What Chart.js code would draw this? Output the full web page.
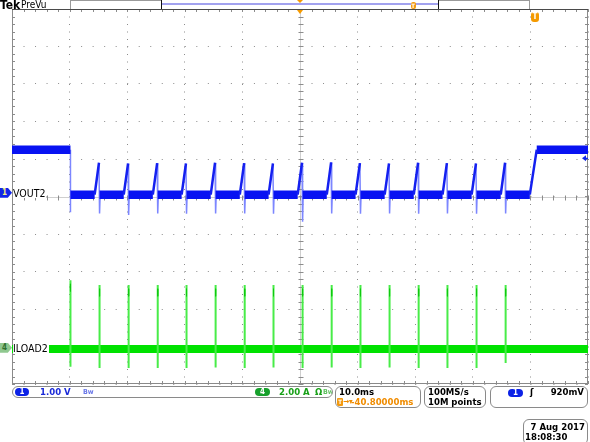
<!DOCTYPE html>
<html>
<head>
<meta charset="utf-8">
<title>VOUT2 / ILOAD2</title>
<script src="https://cdn.jsdelivr.net/npm/chart.js@4.4.1/dist/chart.umd.min.js"></script>
<style>
  body { margin: 0; background: #fff; }
  #scope { position: relative; width: 590px; height: 442px; overflow: hidden;
           font-family: 'DejaVu Sans Condensed', 'DejaVu Sans', sans-serif; font-size: 9.5px; font-weight: bold; color: #000; }
  #scope canvas { position: absolute; left: 0; top: 0; }
  .abs { position: absolute; white-space: nowrap; line-height: 10px; }
  .box { position: absolute; border: 1px solid #8a8a8a; border-radius: 6px; background: #fff; overflow: hidden; box-sizing: border-box; }
  .pill { position: absolute; color: #fff; font-weight: bold; font-size: 8px; line-height: 8px; text-align: center; border-radius: 5px; }
  .marker { position: absolute; left: 0; width: 12px; height: 10px; font-size: 8px; line-height: 10px; font-weight: bold; text-indent: 2px;
            clip-path: polygon(0 0, 65% 0, 100% 50%, 65% 100%, 0 100%); }
  .tlabel { position: absolute; left: 13px; background: #fff; line-height: 10px; font-size: 10.5px; font-weight: normal; padding-right: 1px; }
</style>
</head>
<body>
<div id="scope">
  <canvas id="scopeChart" width="590" height="442"></canvas>

  <!-- header / record view -->
  <div class="abs" style="left:0;top:0;font-weight:bold;font-size:12px;line-height:10px;">Tek</div>
  <div class="abs" style="left:21px;top:0;font-size:10px;line-height:9px;font-weight:normal;">PreVu</div>
  <div style="position:absolute;left:70px;top:0;width:92px;height:9px;border:1px solid #9a9a9a;border-bottom:none;border-right:none;box-sizing:border-box;"></div>
  <div style="position:absolute;left:162px;top:3px;width:276px;height:2px;background:#a2a2ef;"></div>
  <div style="position:absolute;left:161px;top:0;width:1px;height:9px;background:#111;"></div>
  <div style="position:absolute;left:438px;top:0;width:1px;height:9px;background:#111;"></div>
  <div style="position:absolute;left:439px;top:0;width:91px;height:9px;border:1px solid #9a9a9a;border-bottom:none;border-left:none;box-sizing:border-box;"></div>
  <div id="recT" class="abs" style="top:2px;width:5px;height:7px;background:#f39a10;border-radius:2px;color:#fff;font-size:6px;line-height:7px;text-align:center;font-weight:bold;">T</div>

  <!-- trigger marker on the graticule -->
  <div id="trigT" class="abs" style="top:12px;width:8px;height:10px;background:#f59a00;border-radius:3px;color:#fff;font-size:8px;line-height:10px;text-align:center;font-weight:bold;">T</div>

  <!-- channel markers and labels -->
  <div id="mark1" class="marker" style="background:#1226e8;color:#f4f080;">1</div>
  <div id="lab1" class="tlabel">VOUT2</div>
  <div id="mark4" class="marker" style="background:#8fc88f;color:#2f6f2f;">4</div>
  <div id="lab4" class="tlabel">ILOAD2</div>

  <!-- status bar -->
  <div class="box" style="left:12px;top:386px;width:321px;height:12px;">
    <div class="pill" style="left:2px;top:1px;width:14px;height:8px;background:#0c22e6;">1</div>
    <div class="abs" style="left:27px;top:0;color:#1a2ad8;">1.00 V</div>
    <div class="abs" style="left:70px;top:0;color:#6a78e8;font-size:7px;">Bw</div>
    <div class="pill" style="left:242px;top:1px;width:15px;height:8px;background:#17a02c;">4</div>
    <div class="abs" style="left:266px;top:0;color:#18a018;">2.00 A</div>
    <div class="abs" style="left:302px;top:0;color:#18a018;">Ω</div>
    <div class="abs" style="left:310px;top:0;color:#60c060;font-size:7px;">Bw</div>
  </div>
  <div class="box" style="left:335px;top:386px;width:86px;height:22px;">
    <div class="abs" style="left:3px;top:0;">10.0ms</div>
    <div class="abs" style="left:1px;top:11px;width:6px;height:8px;background:#f39a10;border-radius:1px;color:#fff;font-size:6px;line-height:8px;text-align:center;">T</div>
    <div class="abs" style="left:7px;top:10px;color:#f08c00;font-size:8px;">→▾</div>
    <div class="abs" style="left:15px;top:10px;color:#f08c00;">-40.80000ms</div>
  </div>
  <div class="box" style="left:424px;top:386px;width:62px;height:22px;">
    <div class="abs" style="left:3px;top:0;">100MS/s</div>
    <div class="abs" style="left:3px;top:10px;">10M points</div>
  </div>
  <div class="box" style="left:490px;top:386px;width:98px;height:22px;">
    <div class="pill" style="left:17px;top:2px;width:15px;height:8px;background:#0c22e6;">1</div>
    <div class="abs" style="left:39px;top:0;">ʃ</div>
    <div class="abs" style="right:3px;top:0;">920mV</div>
  </div>
  <div class="box" style="left:523px;top:419px;width:65px;height:26px;">
    <div class="abs" style="right:2px;top:2px;">7 Aug 2017</div>
    <div class="abs" style="left:1px;top:12px;">18:08:30</div>
  </div>
</div>

<script>
// scope settings
const msPerDiv = 10;
const ch1VoltsPerDiv = 1.0;
const ch4AmpsPerDiv = 2.0;
const ch1Position = 5.1;   // divisions above bottom of graticule
const ch4Position = 0.97;
const triggerLevel = 0.92; // V
const triggerTime = 90.8;  // ms from left edge (-40.8ms from centre)

// switching events, ms from the left edge of the screen
const edgeTimes = [10.15, 15.2, 20.25, 25.3, 30.3, 35.35, 40.4, 45.4, 50.45, 55.5, 60.5, 65.55, 70.6, 75.6, 80.65, 85.7];

// VOUT2 (V)
const vout2High = 1.15;
const vout2Low = -0.05;
const vout2Peaks = [null, 0.8, 0.78, 0.79, 0.78, 0.8, 0.79, 0.78, 0.8, 0.81, 0.79, 0.78, 0.8, 0.79, 0.78, 0.8];
const vout2Dips = [-0.52, -0.55, -0.59, -0.55, -0.56, -0.55, -0.55, -0.56, -0.77, -0.55, -0.56, -0.55, -0.56, -0.55, -0.56, -0.55];
const vout2RiseStart = 89.9;
const vout2RiseEnd = 91.1;
const rampMs = 0.85;

// ILOAD2 (A)
const iload2Level = -0.07;
const iload2Peaks = [3.6, 3.34, 3.34, 3.34, 3.34, 3.34, 3.34, 3.34, 3.34, 3.34, 3.34, 3.34, 3.34, 3.34, 3.34, 3.34];
const iload2Dips = [-1.02, -1.08, -1.08, -1.08, -1.08, -1.06, -1.08, -1.06, -1.08, -1.06, -1.08, -1.06, -1.08, -1.08, -1.08, -0.82];

const div1 = v => ch1Position + v / ch1VoltsPerDiv;
const div4 = a => ch4Position + a / ch4AmpsPerDiv;
const gap = t => ({ x: t, y: null });

// VOUT2 thick noise band
const vBand = [{ x: 0, y: div1(vout2High) }, { x: edgeTimes[0], y: div1(vout2High) }, gap(edgeTimes[0])];
const vRamp = [];
const vSpike = [{ x: edgeTimes[0], y: div1(vout2High) }, { x: edgeTimes[0], y: div1(vout2Dips[0]) }, gap(edgeTimes[0])];
edgeTimes.forEach((t, i) => {
  const next = i + 1 < edgeTimes.length ? edgeTimes[i + 1] - rampMs : vout2RiseStart;
  vBand.push({ x: t, y: div1(vout2Low) }, { x: next, y: div1(vout2Low) }, gap(next));
  if (i > 0) {
    vRamp.push({ x: t - rampMs, y: div1(vout2Low) }, { x: t - 0.1, y: div1(vout2Peaks[i]) }, gap(t));
    vSpike.push({ x: t - 0.1, y: div1(vout2Peaks[i]) }, { x: t, y: div1(vout2Dips[i]) }, { x: t + 0.1, y: div1(vout2Low) }, gap(t));
  }
});
vRamp.push({ x: vout2RiseStart, y: div1(vout2Low) }, { x: vout2RiseEnd, y: div1(vout2High) });
vBand.push({ x: vout2RiseEnd, y: div1(vout2High) }, { x: 100, y: div1(vout2High) });

// ILOAD2
const iBand = [{ x: 0, y: div4(iload2Level) }, { x: 100, y: div4(iload2Level) }];
const iSpike = [];
const iCore = [];
edgeTimes.forEach((t, i) => {
  iSpike.push({ x: t, y: div4(iload2Dips[i]) }, { x: t, y: div4(iload2Peaks[i]) }, gap(t));
  iCore.push({ x: t, y: div4(iload2Peaks[i] - 0.2) }, { x: t, y: div4(iload2Peaks[i] - 0.6) }, gap(t));
});

const graticule = {
  id: 'graticule',
  beforeDatasetsDraw(chart) {
    const { ctx, chartArea: a, scales: { x, y } } = chart;
    const cx = Math.round(x.getPixelForValue(50)) + 0.5;
    const cy = Math.round(y.getPixelForValue(5)) + 0.5;
    ctx.save();
    ctx.lineWidth = 1;
    ctx.strokeStyle = '#cfcfcf';
    ctx.beginPath();
    ctx.moveTo(a.left, cy); ctx.lineTo(a.right, cy);
    ctx.moveTo(cx, a.top); ctx.lineTo(cx, a.bottom);
    ctx.stroke();
    ctx.strokeStyle = '#8c8c8c';
    ctx.beginPath();
    for (let t = 0; t <= 100; t += msPerDiv / 5) {
      const px = Math.round(x.getPixelForValue(t)) + 0.5;
      ctx.moveTo(px, a.top); ctx.lineTo(px, a.top + 3);
      ctx.moveTo(px, a.bottom); ctx.lineTo(px, a.bottom - 3);
      ctx.moveTo(px, cy - 2); ctx.lineTo(px, cy + 3);
    }
    for (let d = 0; d <= 10.01; d += 0.2) {
      const py = Math.round(y.getPixelForValue(d)) + 0.5;
      ctx.moveTo(a.left, py); ctx.lineTo(a.left + 3, py);
      ctx.moveTo(a.right, py); ctx.lineTo(a.right - 3, py);
      ctx.moveTo(cx - 2, py); ctx.lineTo(cx + 3, py);
    }
    ctx.stroke();
    ctx.strokeStyle = '#8a8a8a';
    ctx.strokeRect(a.left + 0.5, a.top + 0.5, a.width - 1, a.height - 1);
    ctx.strokeStyle = '#4a4a4a';
    ctx.beginPath();
    ctx.moveTo(a.left, a.top + 0.5); ctx.lineTo(a.right, a.top + 0.5);
    ctx.stroke();
    ctx.restore();
  },
  afterDraw(chart) {
    const { ctx, chartArea: a, scales: { x, y } } = chart;
    const cx = x.getPixelForValue(50);
    ctx.save();
    ctx.fillStyle = '#f59a00';
    ctx.beginPath();
    ctx.moveTo(cx - 3, a.top + 1); ctx.lineTo(cx + 3, a.top + 1); ctx.lineTo(cx, a.top + 5);
    ctx.closePath(); ctx.fill();
    ctx.beginPath();
    ctx.moveTo(cx - 3, 0); ctx.lineTo(cx + 3, 0); ctx.lineTo(cx, 3);
    ctx.closePath(); ctx.fill();
    // trigger level arrow
    const ty = y.getPixelForValue(div1(triggerLevel));
    ctx.fillStyle = '#1226e8';
    ctx.beginPath();
    ctx.moveTo(a.right - 6, ty); ctx.lineTo(a.right - 2, ty - 3); ctx.lineTo(a.right - 2, ty + 3);
    ctx.closePath(); ctx.fill();
    ctx.fillRect(a.right - 3, ty - 0.5, 3, 1.5);
    ctx.restore();
  }
};

const lineSet = (data, color, width, order) => ({
  data, borderColor: color, borderWidth: width, pointRadius: 0,
  tension: 0, spanGaps: false, borderCapStyle: 'butt', fill: false, order
});

const chart = new Chart(document.getElementById('scopeChart'), {
  type: 'line',
  data: {
    datasets: [
      lineSet(iBand, '#00e200', 8, 7),
      lineSet(iSpike, '#48ec48', 2, 6),
      lineSet(iCore, '#10c810', 1, 5),
      lineSet(vSpike, '#7c86ff', 1.5, 4),
      lineSet(vBand, '#0812f2', 8.5, 3),
      lineSet(vRamp, '#1420f0', 2.5, 2)
    ]
  },
  options: {
    responsive: false,
    animation: false,
    events: [],
    layout: { padding: { left: 12, right: 2, top: 9, bottom: 58 } },
    plugins: { legend: { display: false }, tooltip: { enabled: false } },
    scales: {
      x: {
        type: 'linear', min: 0, max: 100,
        ticks: { display: false, stepSize: msPerDiv },
        grid: { color: '#8c8c8c', drawTicks: false },
        border: { display: false, dash: [1, 6.5] }
      },
      y: {
        type: 'linear', min: 0, max: 10,
        ticks: { display: false, stepSize: 1 },
        grid: { color: '#8c8c8c', drawTicks: false },
        border: { display: false, dash: [1, 10.52] }
      }
    }
  },
  plugins: [graticule]
});

// place the on-screen markers from the chart's own scales
const sx = chart.scales.x, sy = chart.scales.y;
const y1 = sy.getPixelForValue(ch1Position), y4 = sy.getPixelForValue(ch4Position);
document.getElementById('mark1').style.top = (y1 - 5) + 'px';
document.getElementById('lab1').style.top = (y1 - 5) + 'px';
document.getElementById('mark4').style.top = (y4 - 5) + 'px';
document.getElementById('lab4').style.top = (y4 - 5) + 'px';
document.getElementById('trigT').style.left = (sx.getPixelForValue(triggerTime) - 4) + 'px';
document.getElementById('recT').style.left = (162 + 276 * (triggerTime / 100) - 2) + 'px';
</script>
</body>
</html>
